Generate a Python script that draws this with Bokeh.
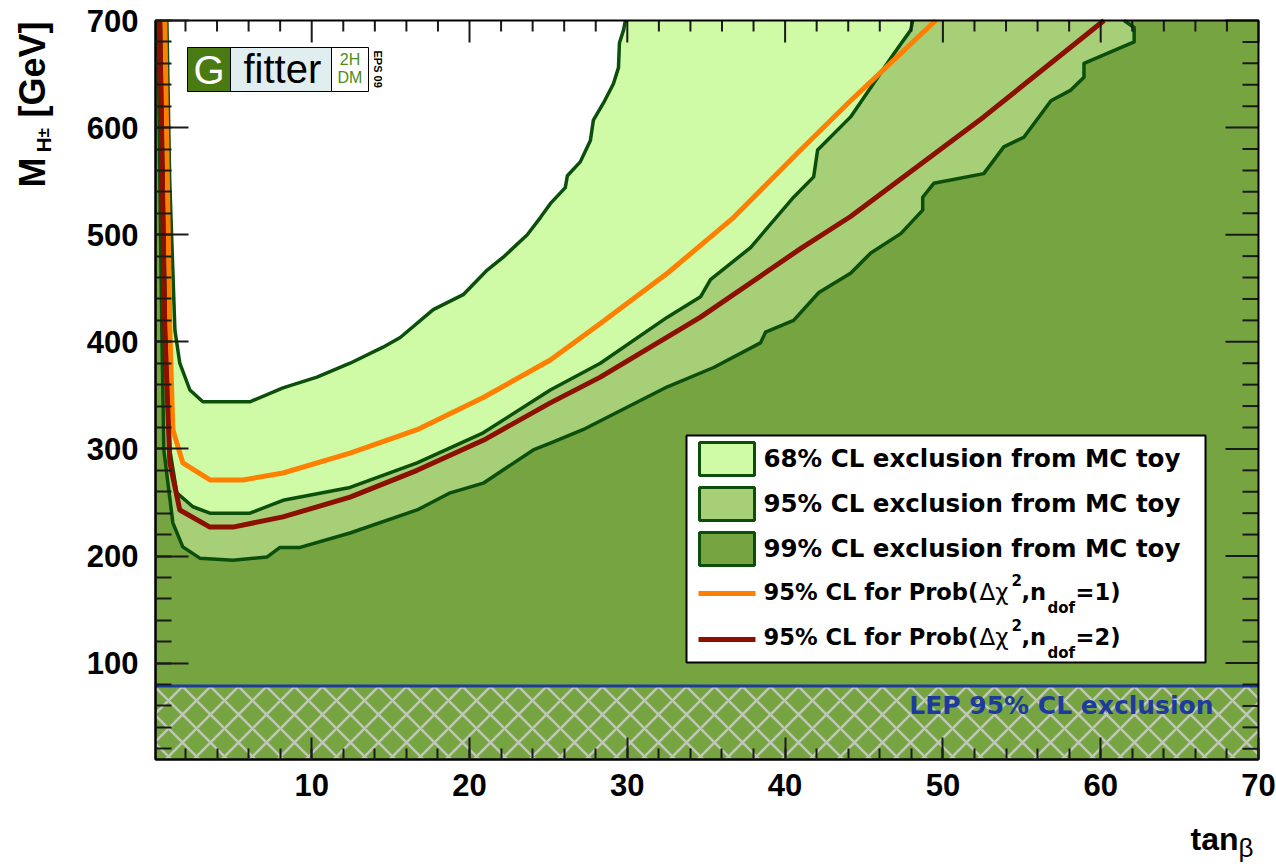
import math
from bokeh.plotting import figure
from bokeh.models import Range1d, LinearAxis, SingleIntervalTicker, Span, Label
from bokeh.embed import file_html
from bokeh.resources import INLINE

# ---------------- data ----------------
# 68% CL exclusion contour (MC toy)
tanb_68 = [0.82, 1.00, 1.33, 1.64, 2.28, 3.10, 6.08, 8.18, 10.33, 12.43, 14.52, 15.61,
           17.70, 19.60, 21.12, 22.14, 23.66, 24.49, 25.12, 26.07, 26.20, 27.02, 27.66,
           27.85, 28.49, 29.12, 29.44, 29.50, 29.76, 29.88]
mh_68 = [700, 551, 411, 380, 355, 344, 344, 357, 367, 380, 395, 404,
         430, 444, 467, 479, 500, 516, 529, 544, 555, 568, 588,
         607, 623, 641, 656, 679, 691, 700]

# 95% CL exclusion contour (MC toy)
tanb_95 = [0.44, 0.76, 1.01, 1.45, 2.47, 3.55, 6.08, 8.18, 12.43, 16.68, 20.87, 25.12,
           28.29, 32.54, 34.64, 35.27, 37.81, 40.54, 41.81, 42.06, 44.15, 46.89, 47.96, 48.09]
mh_95 = [700, 411, 299, 259, 246, 240, 240, 252, 264, 287, 315, 355,
         380, 423, 442, 458, 488, 535, 554, 579, 610, 669, 691, 700]

# 99% CL exclusion contour (MC toy)
tanb_99 = [0.25, 0.50, 0.63, 1.20, 1.83, 2.91, 5.01, 7.16, 7.99, 9.26, 12.43, 16.68,
           18.78, 20.87, 24.04, 25.12, 27.34, 32.54, 35.47, 38.44, 38.76, 40.54, 42.14,
           44.15, 45.43, 47.33, 48.72, 48.72, 49.42, 52.59, 53.86, 55.13, 56.85, 58.11,
           58.94, 58.94, 62.12, 62.12, 61.48]
mh_99 = [700, 411, 299, 231, 208.5, 198, 196, 199, 208, 208, 221.5, 243,
         259, 268, 299, 305.5, 319, 358, 376, 399, 409, 420, 446,
         464, 483, 501, 523, 535, 548, 557, 582, 591, 625, 635,
         647, 660, 680, 693.5, 700]

# 95% CL for Prob(dchi2, ndof=1)
tanb_ndof1 = [0.69, 1.01, 1.20, 1.83, 3.55, 5.64, 8.18, 12.43, 16.68, 20.87, 25.12,
              28.29, 32.54, 36.73, 40.98, 44.15, 49.54]
mh_ndof1 = [700, 411, 318, 287, 271, 271, 277.5, 296, 318, 348, 383,
            417, 464, 516, 579, 625, 700]

# 95% CL for Prob(dchi2, ndof=2)
tanb_ndof2 = [0.37, 0.69, 1.01, 1.64, 3.55, 5.01, 8.18, 12.43, 16.68, 20.87, 25.12,
              28.29, 34.64, 40.98, 44.15, 52.59, 60.21]
mh_ndof2 = [700, 411, 287, 243, 227, 227, 236.5, 255, 280, 308, 343,
            367, 423, 487, 517, 610, 700]

lep_limit = 78.6

legend_labels = ["68% CL exclusion from MC toy",
                 "95% CL exclusion from MC toy",
                 "99% CL exclusion from MC toy"]

# axis extent and tick spacing of the reference
XS, XE, YS, YE = 0.1, 70.0, 10.0, 700.0
x_major, x_minor_step = 10, 2
y_major, y_minor_step = 100, 20

# ---------------- styling / layout ----------------
W, H = 1276, 864
FL, FR, FT, FB = 155, 1258, 20, 759          # pixel box of the plotting area

C68 = "#cffba6"
C95 = "#a6cf78"
C99 = "#76a441"
CLINE = "#0b4f0b"
CORANGE = "#ff7f00"
CRED = "#8c1000"
CBLUE = "#1d3b9c"
HELV = "Liberation Sans"
WIDE = "DejaVu Sans"
KX = (XE - XS) / (FR - FL)     # data units per pixel
KY = (YE - YS) / (FB - FT)


def X(px):
    return XS + (px - FL) * KX


def Y(py):
    return YE - (py - FT) * KY


# the frame fills the whole canvas; the plotting box is placed inside it
p = figure(width=W, height=H, x_range=Range1d(X(0), X(W)), y_range=Range1d(Y(H), Y(0)),
           output_backend="svg", toolbar_location=None,
           x_axis_type=None, y_axis_type=None,
           min_border_left=0, min_border_right=0, min_border_top=0, min_border_bottom=0)
p.background_fill_color = "white"
p.border_fill_color = "white"
p.outline_line_color = None


def make_axis(kind):
    interval = x_major if kind == "x" else y_major
    ax = LinearAxis(ticker=SingleIntervalTicker(interval=interval, num_minor_ticks=5))
    ax.fixed_location = YS if kind == "x" else XS
    ax.bounds = (XS, XE) if kind == "x" else (YS, YE)
    ax.axis_line_color = "black"
    ax.axis_line_width = 2
    ax.major_tick_in = 22 if kind == "x" else 33
    ax.major_tick_out = 0
    ax.minor_tick_in = 11 if kind == "x" else 16
    ax.minor_tick_out = 0
    ax.major_tick_line_color = "#1a1a1a"
    ax.major_tick_line_width = 2
    ax.minor_tick_line_color = "#1a1a1a"
    ax.minor_tick_line_width = 2
    ax.major_label_text_font = HELV
    ax.major_label_text_font_style = "bold"
    ax.major_label_text_font_size = "31px"
    ax.major_label_text_color = "black"
    ax.major_label_standoff = 14 if kind == "x" else 17
    return ax


def region(xs, ys):
    return ([XS, XS] + list(xs) + [XE, XE], [YS, YE] + list(ys) + [YE, YS])


for xs, ys, col in [(tanb_68, mh_68, C68), (tanb_95, mh_95, C95), (tanb_99, mh_99, C99)]:
    rx, ry = region(xs, ys)
    p.patch(rx, ry, fill_color=col, line_color=None)

for xs, ys in [(tanb_68, mh_68), (tanb_95, mh_95), (tanb_99, mh_99)]:
    p.line(xs, ys, line_color=CLINE, line_width=3.5, line_join="round")

p.line(tanb_ndof1, mh_ndof1, line_color=CORANGE, line_width=5, line_join="round")
p.line(tanb_ndof2, mh_ndof2, line_color=CRED, line_width=5, line_join="round")

# LEP exclusion band
p.quad(left=XS, right=XE, bottom=YS, top=lep_limit, fill_color=None, line_color=None,
       hatch_pattern="diagonal_cross", hatch_color="#c3c3c3", hatch_weight=2.5,
       hatch_scale=28)
p.segment(x0=[XS], y0=[lep_limit], x1=[XE], y1=[lep_limit], line_color=CBLUE, line_width=3)

# mirrored ticks on the top and right edges (ROOT style)
xt_major = list(range(x_major, int(XE) + 1, x_major))
xt_minor = [v for v in range(x_minor_step, int(XE), x_minor_step) if v % x_major]
yt_major = list(range(y_major, int(YE) + 1, y_major))
yt_minor = [v for v in range(y_minor_step, int(YE), y_minor_step) if v % y_major]
for vals, ln in [(xt_major, 22), (xt_minor, 11)]:
    p.segment(x0=vals, y0=[YE] * len(vals), x1=vals, y1=[YE - ln * KY] * len(vals),
              line_color="#1a1a1a", line_width=2)
for vals, ln in [(yt_major, 33), (yt_minor, 16)]:
    p.segment(x0=[XE] * len(vals), y0=vals, x1=[XE - ln * KX] * len(vals), y1=vals,
              line_color="#1a1a1a", line_width=2)

# frame of the plotting box
p.quad(left=XS, right=XE, bottom=YS, top=YE, fill_color=None, line_color="black",
       line_width=2)

p.add_layout(make_axis("x"), "below")
p.add_layout(make_axis("y"), "left")

BASE = 0.37   # Label draws its alphabetic baseline ~0.37 em below the anchor


def lab(text, px, py, size, font=HELV, style="bold", color="black", align="left",
        angle=0.0):
    # px, py: wanted position of the start of the baseline, in canvas pixels
    off = BASE * size
    ax = px - off * math.sin(angle)
    ay = py - off * math.cos(angle)
    p.add_layout(Label(x=X(ax), y=Y(ay), text=text, angle=angle, text_align=align,
                       text_baseline="alphabetic", text_font=font,
                       text_font_style=style, text_font_size="%.1fpx" % size,
                       text_color=color))


lab("LEP 95% CL exclusion", 1213, 714, 25, font=WIDE, color=CBLUE, align="right")

# ---------------- legend (drawn by hand) ----------------
p.quad(left=X(686), right=X(1205), top=Y(435), bottom=Y(662), fill_color="white",
       line_color="black", line_width=2)
for (t, b), col in zip([(442, 475), (487, 520), (532, 565)], [C68, C95, C99]):
    p.quad(left=X(699), right=X(754), top=Y(t), bottom=Y(b), fill_color=col,
           line_color=CLINE, line_width=3)
p.segment(x0=[X(698)], y0=[Y(593)], x1=[X(755)], y1=[Y(593)], line_color=CORANGE,
          line_width=5)
p.segment(x0=[X(698)], y0=[Y(639)], x1=[X(755)], y1=[Y(639)], line_color=CRED,
          line_width=5)

for txt, base in zip(legend_labels, [467, 512, 557]):
    lab(txt, 763, base, 24.5, font=WIDE)

for n, base in [("1", 600), ("2", 645)]:
    runs = [("95% CL for Prob(", 763, 0, "bold", 22.6),
            ("\u0394\u03c7", 979, 0, "normal", 23),
            ("2", 1011, -15, "bold", 15),
            (",n", 1021, 0, "bold", 22.6),
            ("dof", 1047, 13, "bold", 15),
            ("=" + n + ")", 1075, 0, "bold", 22.6)]
    for txt, px, dy, st, sz in runs:
        lab(txt, px, base + dy, sz, font=WIDE, style=st)

# ---------------- Gfitter logo ----------------
p.quad(left=X(187), right=X(230), top=Y(47), bottom=Y(91), fill_color="#4a7a12",
       line_color="black", line_width=1)
p.quad(left=X(230), right=X(331), top=Y(47), bottom=Y(91), fill_color="#e1eef0",
       line_color="black", line_width=1)
p.quad(left=X(331), right=X(368), top=Y(47), bottom=Y(91), fill_color="white",
       line_color="black", line_width=1)
lab("G", 208.5, 84, 40, style="normal", color="white", align="center")
lab("fitter", 243, 83, 40, style="normal")
lab("2H", 349.5, 65, 16, style="normal", color="#4c8c1c", align="center")
lab("DM", 349.5, 83, 16, style="normal", color="#4c8c1c", align="center")
lab("EPS 09", 373, 50, 11, angle=-math.pi / 2)

# ---------------- axis titles ----------------
lab("M", 45, 187, 36, angle=math.pi / 2)
lab("H", 51, 152, 21, angle=math.pi / 2)
lab("\u00b1", 49, 137, 17, angle=math.pi / 2)
lab("[GeV]", 45, 117, 36, angle=math.pi / 2)
lab("tan", 1190, 850, 32)
lab("\u03b2", 1238, 857, 26, style="normal")

open("out.html", "w").write(file_html(p, INLINE))
